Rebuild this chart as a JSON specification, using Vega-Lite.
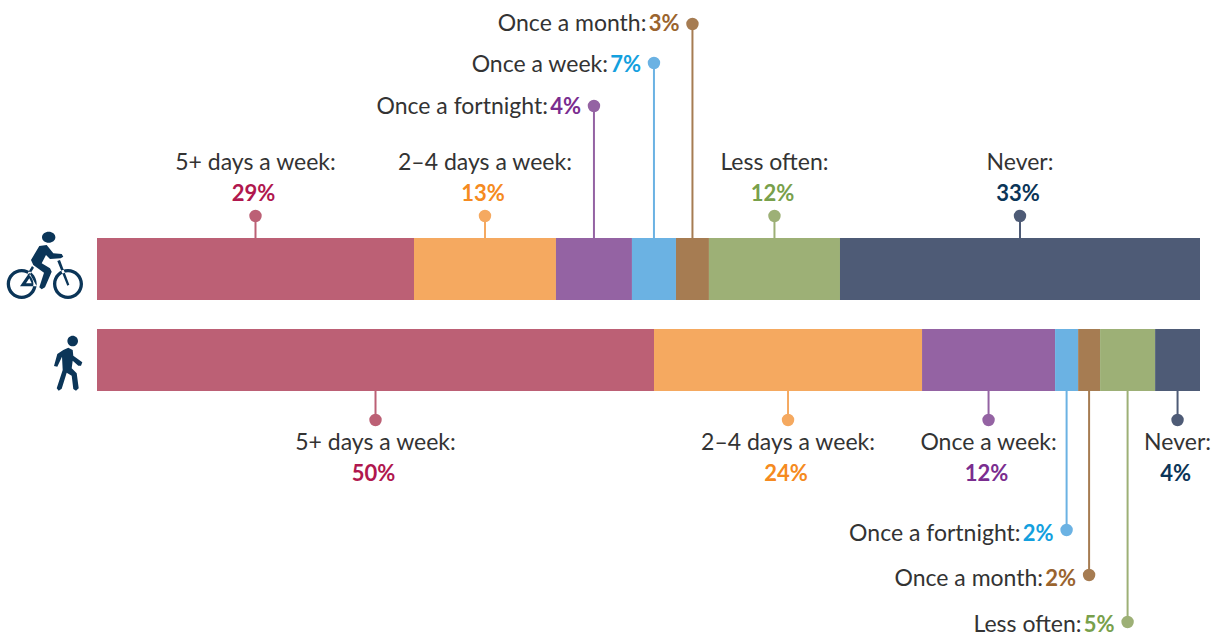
{
"$schema":"https://vega.github.io/schema/vega-lite/v6.json",
"width":1211,"height":637,"padding":0,"autosize":{"type":"none"},
"background":"white",
"config":{"view":{"stroke":null},"text":{"font":"Lato","fontSize":23,"baseline":"middle"}},
"data":{"values":[
{"mode":"Cycling","rank":1,"share":28.74,"label":"5+ days a week:","pct":"29%","inline":false,"barTop":7,"barBottom":8,"barMid":7.5,"edge":7,"dot":6,"labelRung":4,"pctRung":5},
{"mode":"Cycling","rank":2,"share":12.87,"label":"2–4 days a week:","pct":"13%","inline":false,"barTop":7,"barBottom":8,"barMid":7.5,"edge":7,"dot":6,"labelRung":4,"pctRung":5},
{"mode":"Cycling","rank":3,"share":6.89,"label":"Once a fortnight:","pct":"4%","inline":true,"barTop":7,"barBottom":8,"barMid":7.5,"edge":7,"dot":3,"labelRung":3.2,"pctRung":3.2},
{"mode":"Cycling","rank":4,"share":3.99,"label":"Once a week:","pct":"7%","inline":true,"barTop":7,"barBottom":8,"barMid":7.5,"edge":7,"dot":2,"labelRung":2.2,"pctRung":2.2},
{"mode":"Cycling","rank":5,"share":2.99,"label":"Once a month:","pct":"3%","inline":true,"barTop":7,"barBottom":8,"barMid":7.5,"edge":7,"dot":1,"labelRung":1,"pctRung":1},
{"mode":"Cycling","rank":6,"share":11.88,"label":"Less often:","pct":"12%","inline":false,"barTop":7,"barBottom":8,"barMid":7.5,"edge":7,"dot":6,"labelRung":4,"pctRung":5},
{"mode":"Cycling","rank":7,"share":32.64,"label":"Never:","pct":"33%","inline":false,"barTop":7,"barBottom":8,"barMid":7.5,"edge":7,"dot":6,"labelRung":4,"pctRung":5},
{"mode":"Walking","rank":1,"share":50.5,"label":"5+ days a week:","pct":"50%","inline":false,"barTop":9,"barBottom":10,"barMid":9.5,"edge":10,"dot":11,"labelRung":12,"pctRung":13},
{"mode":"Walking","rank":2,"share":24.3,"label":"2–4 days a week:","pct":"24%","inline":false,"barTop":9,"barBottom":10,"barMid":9.5,"edge":10,"dot":11,"labelRung":12,"pctRung":13},
{"mode":"Walking","rank":3,"share":12.06,"label":"Once a week:","pct":"12%","inline":false,"barTop":9,"barBottom":10,"barMid":9.5,"edge":10,"dot":11,"labelRung":12,"pctRung":13},
{"mode":"Walking","rank":4,"share":2.09,"label":"Once a fortnight:","pct":"2%","inline":true,"barTop":9,"barBottom":10,"barMid":9.5,"edge":10,"dot":14,"labelRung":14.2,"pctRung":14.2},
{"mode":"Walking","rank":5,"share":1.99,"label":"Once a month:","pct":"2%","inline":true,"barTop":9,"barBottom":10,"barMid":9.5,"edge":10,"dot":15,"labelRung":15.2,"pctRung":15.2},
{"mode":"Walking","rank":6,"share":4.99,"label":"Less often:","pct":"5%","inline":true,"barTop":9,"barBottom":10,"barMid":9.5,"edge":10,"dot":16,"labelRung":16.2,"pctRung":16.2},
{"mode":"Walking","rank":7,"share":4.07,"label":"Never:","pct":"4%","inline":false,"barTop":9,"barBottom":10,"barMid":9.5,"edge":10,"dot":11,"labelRung":12,"pctRung":13}
]},
"transform":[
{"stack":"share","groupby":["mode"],"sort":[{"field":"rank","order":"ascending"}],"as":["start","end"]},
{"calculate":"(datum.start+datum.end)/2","as":"mid"}
],
"encoding":{
"x":{"field":"mid","type":"quantitative","axis":null,"scale":{"domain":[0,100],"range":[97,1200],"nice":false,"zero":false}}
},
"layer":[
{"mark":{"type":"rect"},
"encoding":{
"x":{"field":"start","type":"quantitative"},"x2":{"field":"end"},
"y":{"field":"barTop","type":"quantitative","axis":null,"scale":{"domain":[1,2,2.2,3,3.2,4,5,6,7,8,9,10,11,12,13,14,14.2,15,15.2,16,16.2],"range":[24,63,65,106,107,163,194,216,238,300,329,391,420,443,474,530,534,575,579,622,625],"nice":false,"zero":false}},
"y2":{"field":"barBottom"},
"color":{"field":"rank","type":"nominal","legend":null,"scale":{"domain":[1,2,3,4,5,6,7],"range":["#BC6075","#F5A960","#9463A3","#6BB2E3","#A67C52","#9DB076","#4E5B76"]}}
}},
{"mark":{"type":"rule","strokeWidth":2},
"encoding":{
"y":{"field":"dot","type":"quantitative"},"y2":{"field":"edge"},
"color":{"field":"rank","type":"nominal"}
}},
{"mark":{"type":"point","filled":true,"opacity":1,"shape":"circle","size":154},
"encoding":{
"y":{"field":"dot","type":"quantitative"},
"color":{"field":"rank","type":"nominal"}
}},
{"transform":[{"filter":"!datum.inline"}],
"mark":{"type":"text","align":"center","fill":"#333333"},
"encoding":{"y":{"field":"labelRung","type":"quantitative"},"text":{"field":"label"}}},
{"transform":[{"filter":"!datum.inline"}],
"mark":{"type":"text","align":"center","fontWeight":"bold","fontSize":22,"dx":-2},
"encoding":{"y":{"field":"pctRung","type":"quantitative"},"text":{"field":"pct"},
"fill":{"field":"rank","type":"nominal","legend":null,"scale":{"domain":[1,2,3,4,5,6,7],"range":["#B0174E","#F58A20","#7A2D8F","#13A0DE","#9A642E","#78A04B","#0B3558"]}}}},
{"transform":[{"filter":"datum.inline"}],
"mark":{"type":"text","align":"right","fill":"#333333","dx":-46},
"encoding":{"y":{"field":"labelRung","type":"quantitative"},"text":{"field":"label"}}},
{"transform":[{"filter":"datum.inline"}],
"mark":{"type":"text","align":"right","fontWeight":"bold","fontSize":22,"dx":-13},
"encoding":{"y":{"field":"pctRung","type":"quantitative"},"text":{"field":"pct"},
"fill":{"field":"rank","type":"nominal"}}},
{"transform":[{"filter":"datum.mode==='Cycling' && datum.rank===1"}],
"mark":{"type":"point","filled":true,"opacity":1,"color":"#0B3558","size":4,
"shape":"M-90.3 15a15 15 0 1 0 30 0a15 15 0 1 0 -30 0ZM-87 15a11.7 11.7 0 1 1 23.4 0a11.7 11.7 0 1 1 -23.4 0ZM-44 15a15 15 0 1 0 30 0a15 15 0 1 0 -30 0ZM-40.7 15a11.7 11.7 0 1 1 23.4 0a11.7 11.7 0 1 1 -23.4 0ZM-55 -31.7a6.7 5.5 0 1 0 13.4 0a6.7 5.5 0 1 0 -13.4 0ZM-57.7 -23L-50.3 -24L-43.7 -15.7L-35.3 -15L-33.7 -12.3L-36.3 -10.7L-47 -10L-51 -14L-55.3 -5.7L-47 -0.7L-45.3 2.7L-52 18.3L-55.3 20.3L-57.7 18.3L-53 3.7L-63.7 -4L-66 -9ZM-77 17.3L-67.7 3.7L-60.3 17.3ZM-71 14.3L-65.3 14.3L-67.7 9.3ZM-69.7 5L-65 -3L-63 -1.3L-67.7 6.3ZM-39.7 -8L-37 -9L-27.7 15.7L-29.7 16.7Z"},
"encoding":{"x":{"field":"start","type":"quantitative"},"y":{"field":"barMid","type":"quantitative"}}},
{"transform":[{"filter":"datum.mode==='Walking' && datum.rank===1"}],
"mark":{"type":"point","filled":true,"opacity":1,"color":"#0B3558","size":4,
"shape":"M-29.6 -19a5.3 5.3 0 1 0 10.6 0a5.3 5.3 0 1 0 -10.6 0ZM-28.7 -12.3L-24.3 -10L-23.7 -4.3L-14.7 2.3L-16 5.7L-18.7 5.7L-24.3 0.7L-25.3 8.3L-20.3 13.3L-18.3 28.3L-21 30.7L-23.7 29L-25.3 15.7L-30.3 12.7L-35.3 28.7L-38.3 30.7L-40.3 28.3L-34.3 10L-35 -3.3L-39.7 6.7L-43 6L-39.7 -6L-33.7 -10Z"},
"encoding":{"x":{"field":"start","type":"quantitative"},"y":{"field":"barMid","type":"quantitative"}}}
]
}
